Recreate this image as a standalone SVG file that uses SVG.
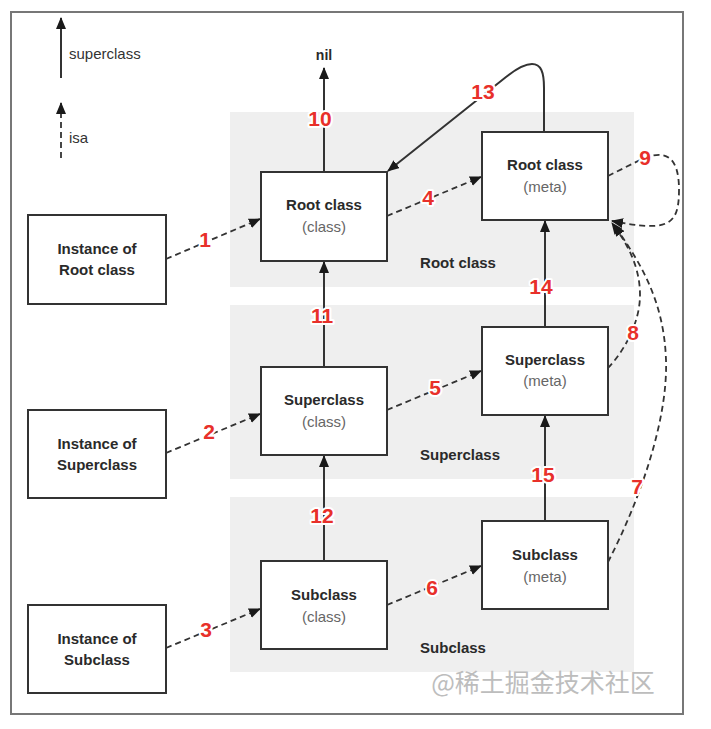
<svg xmlns="http://www.w3.org/2000/svg" width="711" height="729" viewBox="0 0 711 729">
<defs>
<marker id="ah" viewBox="0 0 12 10" refX="11" refY="5" markerWidth="12" markerHeight="10" markerUnits="userSpaceOnUse" orient="auto">
<path d="M0,0 L12,5 L0,10 Z" fill="#1a1a1a"/>
</marker>
</defs>
<style>
.band{fill:#efefef}
.box{fill:#fff;stroke:#333;stroke-width:2}
.t{font-family:"Liberation Sans",Arial,sans-serif;font-size:15px;font-weight:bold;fill:#2a2a2a;text-anchor:middle}
.s{font-family:"Liberation Sans",Arial,sans-serif;font-size:15px;fill:#666;text-anchor:middle}
.sup{fill:none;stroke:#333;stroke-width:2;marker-end:url(#ah)}
.isa{fill:none;stroke:#333;stroke-width:1.8;stroke-dasharray:6,4;marker-end:url(#ah)}
.n{font-family:"Liberation Sans",Arial,sans-serif;font-size:21px;font-weight:bold;fill:#e8302a;stroke:#fff;stroke-width:4;paint-order:stroke;stroke-linejoin:round;text-anchor:middle}
.leg{font-family:"Liberation Sans",Arial,sans-serif;font-size:15px;fill:#333}
</style>
<rect x="0" y="0" width="711" height="729" fill="#fff"/>
<rect x="11" y="12" width="672" height="702" fill="none" stroke="#777" stroke-width="2"/>
<g id="bands">
<rect class="band" x="230" y="112" width="404" height="175"/>
<rect class="band" x="230" y="305" width="404" height="174"/>
<rect class="band" x="230" y="497" width="404" height="175"/>
<text class="t" x="458" y="268">Root class</text>
<text class="t" x="460" y="460">Superclass</text>
<text class="t" x="453" y="653">Subclass</text>
</g>
<g id="legend">
<line class="sup" x1="61" y1="78" x2="61" y2="18"/>
<text class="leg" x="69" y="59">superclass</text>
<line class="isa" x1="61" y1="158" x2="61" y2="103"/>
<text class="leg" x="69" y="143">isa</text>
</g>
<g id="connectors">
<path class="isa" d="M166,259 L260,219"/>
<path class="isa" d="M166,453 L260,414"/>
<path class="isa" d="M166,648 L260,609"/>
<path class="isa" d="M387,216 L481,177"/>
<path class="isa" d="M387,410 L481,371"/>
<path class="isa" d="M387,605 L481,566"/>
<path class="sup" d="M324,172 L324,68"/>
<path class="sup" d="M324,367 L324,262"/>
<path class="sup" d="M324,561 L324,456"/>
<path class="sup" d="M545,327 L545,221"/>
<path class="sup" d="M545,521 L545,416"/>
<path class="sup" d="M544,132 L544,88 C544,72 541,64 532,64 C524,64 516,69 506,77 L388,171"/>
<path class="isa" d="M608,176 L640,160 C662,150 679,152 679,190 C679,226 668,232 612,221"/>
<path class="isa" d="M608,368 C625,350 640,322 640,295 C640,265 626,242 612,223"/>
<path class="isa" d="M608,562 C640,500 668,420 666,360 C664,300 640,262 614,225"/>
</g>
<g id="inst-root"><rect class="box" x="28" y="215" width="138" height="89"/><text class="t" x="97" y="254">Instance of</text><text class="t" x="97" y="275">Root class</text></g>
<g id="inst-super"><rect class="box" x="28" y="410" width="138" height="88"/><text class="t" x="97" y="449">Instance of</text><text class="t" x="97" y="470">Superclass</text></g>
<g id="inst-sub"><rect class="box" x="28" y="605" width="138" height="88"/><text class="t" x="97" y="644">Instance of</text><text class="t" x="97" y="665">Subclass</text></g>
<g id="root-class"><rect class="box" x="261" y="172" width="126" height="89"/><text class="t" x="324" y="210">Root class</text><text class="s" x="324" y="232">(class)</text></g>
<g id="super-class"><rect class="box" x="261" y="367" width="126" height="88"/><text class="t" x="324" y="405">Superclass</text><text class="s" x="324" y="427">(class)</text></g>
<g id="sub-class"><rect class="box" x="261" y="561" width="126" height="88"/><text class="t" x="324" y="600">Subclass</text><text class="s" x="324" y="622">(class)</text></g>
<g id="root-meta"><rect class="box" x="482" y="132" width="126" height="88"/><text class="t" x="545" y="170">Root class</text><text class="s" x="545" y="192">(meta)</text></g>
<g id="super-meta"><rect class="box" x="482" y="327" width="126" height="88"/><text class="t" x="545" y="365">Superclass</text><text class="s" x="545" y="386">(meta)</text></g>
<g id="sub-meta"><rect class="box" x="482" y="521" width="126" height="88"/><text class="t" x="545" y="560">Subclass</text><text class="s" x="545" y="582">(meta)</text></g>
<g id="nil"><text class="t" x="324" y="60" style="font-size:14px">nil</text></g>
<g id="numbers">
<text class="n" x="205" y="247">1</text>
<text class="n" x="209" y="439">2</text>
<text class="n" x="206" y="637">3</text>
<text class="n" x="428" y="205">4</text>
<text class="n" x="435" y="395">5</text>
<text class="n" x="432" y="595">6</text>
<text class="n" x="637" y="494">7</text>
<text class="n" x="633" y="340">8</text>
<text class="n" x="645" y="165">9</text>
<text class="n" x="320" y="126">10</text>
<text class="n" x="322" y="323">11</text>
<text class="n" x="322" y="523">12</text>
<text class="n" x="483" y="99">13</text>
<text class="n" x="541" y="294">14</text>
<text class="n" x="543" y="482">15</text>
</g>
<text x="543" y="692" style="font-family:'Noto Sans CJK SC','Liberation Sans',sans-serif;font-size:25px;fill:#bdbdbd;text-anchor:middle">@稀土掘金技术社区</text>
</svg>
